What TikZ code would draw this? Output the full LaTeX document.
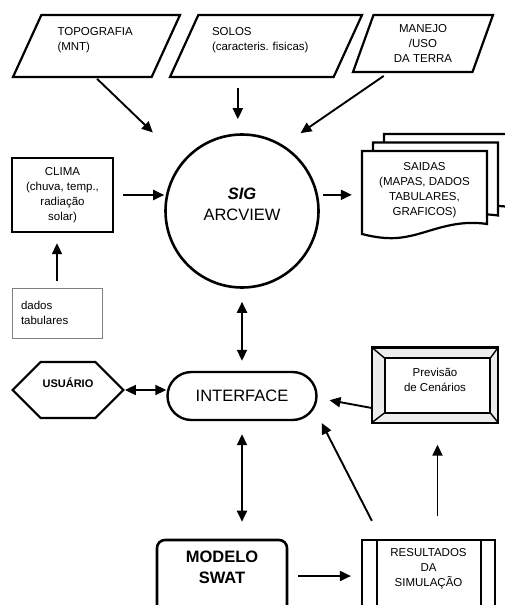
\documentclass[tikz,border=0pt]{standalone}
\usepackage{fontspec}
\setmainfont{Liberation Sans}
\usetikzlibrary{shapes.geometric,shapes.misc,shapes.symbols,arrows.meta}
\begin{document}
\begin{tikzpicture} [
  x=1pt, y=-1pt,
  every node/.style= {font=\fontsize{11.5}{15}\selectfont, align=center, inner sep=2pt},
  big text/.style= {font=\fontsize{16.5}{21}\selectfont},
  arr/.style= {line width=1.9pt, -{Triangle[length=11pt,width=10pt]}},
  darr/.style= {line width=1.9pt, {Triangle[length=11pt,width=10pt]}-{Triangle[length=11pt,width=10pt]}},
  para box/.style= {trapezium, draw, line width=2.2pt, trapezium stretches body, trapezium left angle=#1, trapezium right angle=180-#1},
  thick box/.style= {draw, line width=2.4pt},
]
\useasboundingbox [fill=white] (0,0) rectangle (504,605);

\node (topo) [para box=56, minimum width=167, minimum height=62, text width=78, align=left] at (96.5,46) {TOPOGRAFIA\\(MNT)\\\mbox{}};
\node (solos) [para box=56, minimum width=192, minimum height=62, text width=108, align=left] at (266,46) {SOLOS\\(caracteris.\ fisicas)\\\mbox{}};
\node (manejo) [para box=64, minimum width=140, minimum height=57] at (423,43.5) {MANEJO\\/USO\\DA TERRA};

\node (sig) [circle, draw, line width=2.6pt, minimum size=153, big text] at (242,211) {\textbf{\textit{SIG}}\\ARCVIEW\\[-8pt]\mbox{}};
\node (clima) [thick box, minimum width=101, minimum height=74] at (62.5,195) {CLIMA\\(chuva, temp.,\\radiação\\solar)};
\node (dados) [draw=gray, line width=1pt, minimum width=90, minimum height=50, text width=72, align=left] at (57,313) {dados\\tabulares};

\foreach \k in {2,1,0}
  \draw [fill=white, line width=2.2pt, xshift=11*\k, yshift=8.5*\k] (362,151) -- (487,151) -- (487,224)
    .. controls (455,219) and (430,232) .. (410,236) .. controls (392,240) and (378,238) .. (362,234) -- cycle;
\node (saidas) [minimum width=125] at (424.5,190) {SAIDAS\\(MAPAS, DADOS\\TABULARES,\\GRAFICOS)};

\node (interface) [rounded rectangle, draw, line width=2.4pt, minimum width=153, minimum height=48, big text] at (242,396) {INTERFACE};
\node (usuario) [signal, signal to=west and east, signal pointer angle=90, draw, line width=2.2pt, minimum width=110, minimum height=56, font=\fontsize{11}{14}\selectfont\bfseries] at (68,390) {USUÁRIO\\\mbox{}};

\node (previsao) [minimum width=126, minimum height=75] at (435,385) {Previsão\\de Cenários\\[-5pt]\mbox{}};
\path [fill=gray!15, even odd rule] (previsao.north west) rectangle (previsao.south east)
  ([shift={(13,11)}]previsao.north west) rectangle ([shift={(-8,-10)}]previsao.south east);
\draw [line width=2.4pt] (previsao.north west) rectangle (previsao.south east);
\draw [line width=2pt] ([shift={(13,11)}]previsao.north west) rectangle ([shift={(-8,-10)}]previsao.south east);
\draw [line width=1.4pt] (previsao.north west) -- ++(13,11) (previsao.north east) -- ++(-8,11)
  (previsao.south west) -- ++(13,-10) (previsao.south east) -- ++(-8,-10);

\node (modelo) [thick box, rounded corners=8pt, line width=2.6pt, minimum width=130, minimum height=76, font=\fontsize{16.5}{21}\selectfont\bfseries] at (222,578) {MODELO\\SWAT\\\mbox{}};
\node (resultados) [draw, line width=2.2pt, minimum width=133, minimum height=76] at (428.5,578) {RESULTADOS\\DA\\SIMULAÇÃO\\[6pt]\mbox{}};
\draw [line width=2.2pt] ([xshift=16pt]resultados.north west) -- ([xshift=16pt]resultados.south west)
  ([xshift=-15pt]resultados.north east) -- ([xshift=-15pt]resultados.south east);

\draw [arr, shorten <=1pt, shorten >=41pt] ([xshift=14.5pt]topo.bottom side) -- (sig.140);
\draw [arr, shorten <=10pt, shorten >=14pt] ([xshift=-13.5pt]solos.bottom side) -- ([xshift=-13.5pt]solos.bottom side |- sig.north);
\draw [arr, shorten <=5pt, shorten >=21pt] ([xshift=-24.5pt]manejo.bottom side) -- (sig.58);
\draw [arr, shorten <=9pt] (clima.east) -- (clima.east -| sig.west);
\draw [arr, shorten <=7pt, shorten >=10pt] (dados.north) -- (dados.north |- clima.south);
\draw [arr, shorten <=5pt, shorten >=10pt] (sig.12) -- (sig.12 -| saidas.west);
\draw [darr, shorten <=13pt, shorten >=10pt] (sig.south) -- (interface.north);
\draw [darr] (usuario.east) -- (usuario.east -| interface.west);
\draw [arr, shorten >=12pt] ([yshift=-23pt]previsao.west) -- ([yshift=-2pt]interface.east);
\draw [darr, shorten <=13pt, shorten >=17pt] (interface.south) -- (interface.south |- modelo.north);
\draw [arr, shorten <=10pt, shorten >=10pt] ([yshift=2pt]modelo.east) -- ([yshift=2pt]resultados.west);
\draw [arr, shorten <=23pt, shorten >=22pt] ([xshift=9pt]resultados.north) -- ([xshift=9pt]resultados.north |- previsao.south);
\draw [arr] ([shift={(11,-18)}]resultados.north west) -- ([shift={(4,27)}]interface.east);
\end{tikzpicture}
\end{document}
